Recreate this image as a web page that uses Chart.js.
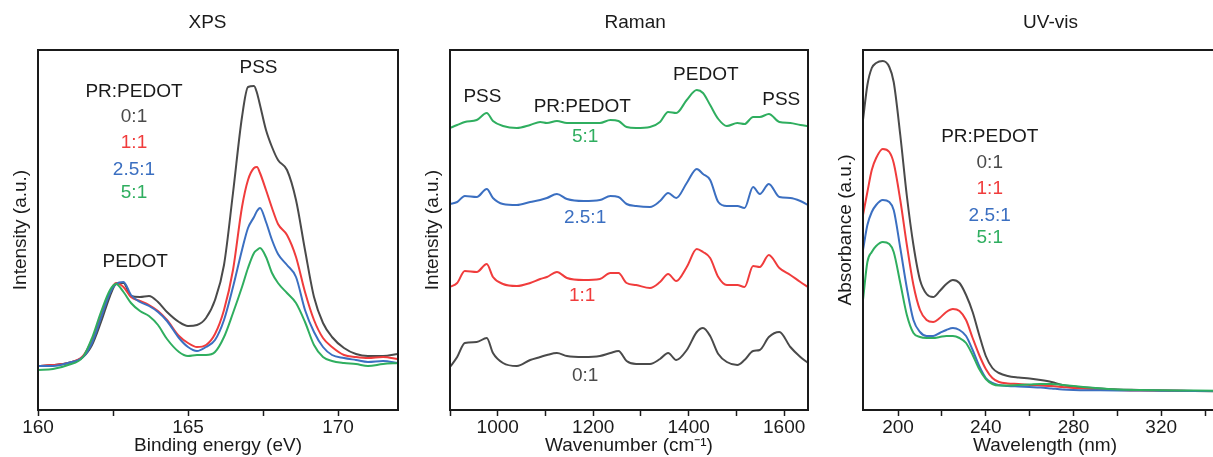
<!DOCTYPE html>
<html>
<head>
<meta charset="utf-8">
<script src="https://cdn.jsdelivr.net/npm/chart.js@4.4.1/dist/chart.umd.min.js"></script>
<style>
  html, body { margin: 0; padding: 0; background: #fff; overflow: hidden; width: 1213px; height: 457px; }
  .panel { position: absolute; top: 0; height: 457px; }
</style>
</head>
<body>
<div class="panel" style="left:0;width:400px"><canvas id="xps"></canvas></div>
<div class="panel" style="left:412px;width:398px"><canvas id="raman"></canvas></div>
<div class="panel" style="left:825px;width:405px"><canvas id="uvvis"></canvas></div>
<script>
// PR:PEDOT ratios and their line colours
const ratios = ['0:1', '1:1', '2.5:1', '5:1'];
const ratioColors = ['#4a4a4a', '#f03c3c', '#3b6fc1', '#2fae5f'];

// XPS, S 2p region
const xpsEnergy = [160, 160.5, 161, 161.5, 161.8, 162.1, 162.4, 162.6, 162.85, 163.1, 163.4, 163.7, 164, 164.3, 164.7, 165, 165.3, 165.6, 165.9, 166.2, 166.5, 166.8, 167, 167.2, 167.3, 167.4, 167.6, 167.8, 168, 168.3, 168.6, 168.9, 169.2, 169.5, 169.8, 170.2, 170.6, 171, 171.5, 172];
const xps01 = [44, 45, 47, 53, 65, 88, 114, 126, 127, 114, 113, 114, 108, 98, 88, 84, 85, 92, 110, 145, 217, 293, 323, 324, 317, 305, 280, 263, 250, 240, 210, 160, 113, 87, 73, 62, 56, 54, 54, 56];
const xps11 = [44, 45, 47, 54, 70, 94, 118, 127, 123, 113, 109, 105, 99, 90, 74, 67, 63, 65, 76, 100, 140, 203, 230, 242, 243, 237, 220, 202, 186, 175, 153, 118, 90, 72, 63, 55, 53, 52, 53, 51];
const xps251 = [44, 44, 47, 53, 67, 92, 117, 126, 128, 115, 108, 104, 98, 89, 72, 63, 59, 63, 70, 90, 123, 160, 182, 193, 199, 202, 188, 170, 156, 145, 133, 100, 78, 63, 55, 52, 50, 48, 49, 47];
const xps51 = [40, 41, 45, 53, 72, 98, 120, 126, 118, 107, 99, 94, 85, 71, 58, 54, 55, 55, 58, 73, 97, 123, 142, 157, 160, 162, 153, 137, 127, 117, 107, 88, 65, 53, 49, 47, 46, 44, 46, 47];
const xpsTicks = [160, 162.5, 165, 167.5, 170];
const xpsLabels = [160, 165, 170];

// Raman spectra, offset per sample
const ramanShift = [900, 915, 931, 956, 977, 990, 1011, 1040, 1068, 1089, 1103, 1124, 1145, 1180, 1214, 1236, 1253, 1270, 1290, 1319, 1340, 1357, 1374, 1396, 1417, 1430, 1445, 1462, 1480, 1502, 1517, 1535, 1549, 1568, 1590, 1613, 1634, 1650];
const raman01 = [43, 53, 67, 68, 72, 57, 47, 44, 50, 53, 55, 57, 54, 53, 54, 57, 59, 49, 46, 46, 51, 57, 50, 60, 78, 82, 74, 56, 48, 45, 50, 59, 60, 73, 78, 63, 53, 47];
const raman11 = [123, 127, 139, 138, 146, 133, 126, 124, 127, 131, 133, 138, 132, 130, 131, 137, 137, 127, 125, 122, 128, 136, 129, 143, 161, 158, 152, 133, 125, 125, 123, 144, 143, 155, 142, 135, 128, 123];
const raman251 = [206, 208, 214, 213, 221, 212, 206, 205, 208, 210, 212, 216, 211, 209, 210, 214, 213, 206, 204, 203, 209, 217, 212, 227, 241, 236, 230, 208, 204, 204, 202, 223, 216, 226, 213, 212, 209, 205];
const raman51 = [282, 285, 288, 290, 297, 289, 284, 282, 285, 288, 287, 289, 287, 287, 287, 290, 289, 283, 282, 283, 288, 298, 297, 310, 320, 317, 305, 291, 284, 287, 286, 293, 293, 296, 288, 287, 285, 284];
const ramanTicks = [900, 1000, 1100, 1200, 1300, 1400, 1500, 1600];
const ramanLabels = [1000, 1200, 1400, 1600];

// UV-vis absorbance
const uvWavelength = [184, 186, 188, 190, 193, 196, 198, 201, 204, 207, 210, 213, 216, 219, 222, 225, 228, 231, 234, 237, 240, 243, 246, 250, 255, 260, 265, 270, 275, 280, 290, 300, 310, 320, 335, 350];
const uv01 = [290, 325, 342, 347, 349, 343, 328, 275, 214, 165, 130, 116, 113, 119, 126, 130, 127, 115, 98, 75, 54, 42, 37, 34, 32.5, 31.5, 30, 28, 25, 23.5, 21.7, 20.5, 20, 19.5, 19, 18.5];
const uv11 = [195, 218, 240, 252, 261, 258, 247, 210, 165, 125, 100, 90, 88, 92, 98, 101, 99, 90, 72, 55, 41, 32, 28, 26.5, 26, 25, 24.5, 24, 23, 22, 21, 20, 19.5, 19.5, 19, 19];
const uv251 = [160, 185, 198, 205, 210, 208, 200, 162, 122, 90, 78, 74, 74, 77, 80, 82, 80, 74, 60, 44, 32, 27, 25, 24, 23.5, 23, 22.5, 21.5, 20.5, 20, 19.7, 19.5, 19.5, 19.3, 19, 19];
const uv51 = [110, 148, 158, 164, 168, 166, 158, 127, 95, 77, 73, 72, 72, 73, 74, 74, 72, 67, 55, 41, 31, 26, 24.5, 24.5, 25, 25.5, 26, 26, 25, 24, 22, 20.5, 20, 19.7, 19.5, 19];
const uvTicks = [200, 220, 240, 260, 280, 300, 320, 340];
const uvLabels = [200, 240, 280, 320];

const ink = '#1a1a1a';
const fontFamily = '"Liberation Sans", Arial, sans-serif';
Chart.defaults.font.family = fontFamily;
Chart.defaults.font.size = 19;
Chart.defaults.color = ink;

// box around the plotting area
const framePlugin = {
  id: 'frame',
  afterDraw(chart) {
    const { ctx, chartArea: a } = chart;
    ctx.save();
    ctx.strokeStyle = ink;
    ctx.lineWidth = 2;
    ctx.strokeRect(a.left, a.top, a.right - a.left, a.bottom - a.top);
    ctx.restore();
  }
};

// text placed in data coordinates (panel title, peak names, ratio key)
function textPlugin(items) {
  return {
    id: 'panelText',
    afterDraw(chart) {
      const { ctx, scales } = chart;
      ctx.save();
      ctx.font = '19px ' + fontFamily;
      ctx.textAlign = 'center';
      ctx.textBaseline = 'middle';
      items.forEach(it => {
        ctx.fillStyle = it.color || ink;
        ctx.fillText(it.text, scales.x.getPixelForValue(it.x), scales.y.getPixelForValue(it.y));
      });
      ctx.restore();
    }
  };
}

function xAxis(min, max, ticks, labels, title) {
  return {
    type: 'linear',
    min: min,
    max: max,
    afterBuildTicks: s => { s.ticks = ticks.map(v => ({ value: v })); },
    afterFit: s => { s.height = 47; },
    grid: { display: true, drawOnChartArea: false, drawTicks: true, tickLength: 6, tickColor: ink, tickWidth: 1.5 },
    border: { display: false },
    ticks: { autoSkip: false, maxRotation: 0, padding: 0, color: ink, callback: v => labels.includes(v) ? String(v) : '' },
    title: { display: true, text: title, color: ink, padding: 0 }
  };
}

function yAxis(title) {
  return {
    min: 0,
    max: 360,
    afterFit: s => { s.width = 38; },
    grid: { display: false },
    border: { display: false },
    ticks: { display: false },
    title: { display: true, text: title, color: ink, padding: { top: 9, bottom: 0 } }
  };
}

function makeDatasets(xs, series) {
  return series.map((ys, i) => ({
    label: ratios[i],
    data: xs.map((x, j) => ({ x: x, y: ys[j] })),
    borderColor: ratioColors[i],
    borderWidth: 2,
    pointRadius: 0,
    cubicInterpolationMode: 'monotone',
    order: series.length - i
  }));
}

function makeChart(id, xs, series, xScale, yTitle, rightPad, items) {
  return new Chart(document.getElementById(id), {
    type: 'line',
    data: { datasets: makeDatasets(xs, series) },
    options: {
      responsive: true,
      maintainAspectRatio: false,
      animation: false,
      layout: { padding: { top: 50, right: rightPad, left: 0, bottom: 0 } },
      scales: { x: xScale, y: yAxis(yTitle) },
      plugins: { legend: { display: false }, tooltip: { enabled: false } }
    },
    plugins: [framePlugin, textPlugin(items)]
  });
}

makeChart('xps', xpsEnergy, [xps01, xps11, xps251, xps51],
  xAxis(160, 172, xpsTicks, xpsLabels, 'Binding energy (eV)'), 'Intensity (a.u.)', 2, [
    { text: 'XPS', x: 165.65, y: 387 },
    { text: 'PSS', x: 167.35, y: 342 },
    { text: 'PR:PEDOT', x: 163.2, y: 318 },
    { text: '0:1', x: 163.2, y: 293, color: ratioColors[0] },
    { text: '1:1', x: 163.2, y: 267, color: ratioColors[1] },
    { text: '2.5:1', x: 163.2, y: 240, color: ratioColors[2] },
    { text: '5:1', x: 163.2, y: 217, color: ratioColors[3] },
    { text: 'PEDOT', x: 163.24, y: 148 }
  ]);

makeChart('raman', ramanShift, [raman01, raman11, raman251, raman51],
  xAxis(900, 1650, ramanTicks, ramanLabels, 'Wavenumber (cm\u207B\u00B9)'), 'Intensity (a.u.)', 2, [
    { text: 'Raman', x: 1288, y: 387 },
    { text: 'PSS', x: 968, y: 313 },
    { text: 'PR:PEDOT', x: 1177, y: 303 },
    { text: 'PEDOT', x: 1436, y: 335 },
    { text: 'PSS', x: 1594, y: 310 },
    { text: '5:1', x: 1183, y: 273, color: ratioColors[3] },
    { text: '2.5:1', x: 1183, y: 192, color: ratioColors[2] },
    { text: '1:1', x: 1177, y: 114, color: ratioColors[1] },
    { text: '0:1', x: 1183, y: 34, color: ratioColors[0] }
  ]);

makeChart('uvvis', uvWavelength, [uv01, uv11, uv251, uv51],
  xAxis(184, 350, uvTicks, uvLabels, 'Wavelength (nm)'), 'Absorbance (a.u.)', 3, [
    { text: 'UV-vis', x: 269.5, y: 387 },
    { text: 'PR:PEDOT', x: 241.8, y: 273 },
    { text: '0:1', x: 241.8, y: 247, color: ratioColors[0] },
    { text: '1:1', x: 241.8, y: 221, color: ratioColors[1] },
    { text: '2.5:1', x: 241.8, y: 194, color: ratioColors[2] },
    { text: '5:1', x: 241.8, y: 172, color: ratioColors[3] }
  ]);
</script>
</body>
</html>
